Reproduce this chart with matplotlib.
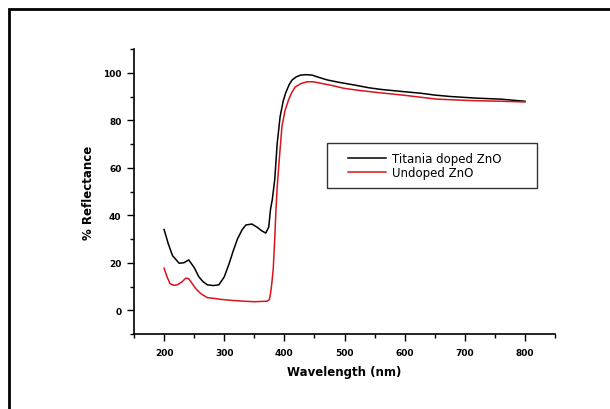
import matplotlib
matplotlib.use("Agg")
import matplotlib.pyplot as plt
from matplotlib.patches import Rectangle
from matplotlib.ticker import MultipleLocator
from matplotlib.legend_handler import HandlerLine2D

wl_doped = [200, 207, 214, 225, 233, 241, 250, 258, 265, 272, 282, 291, 300, 308, 315,
            322, 330, 336, 346, 355, 362, 369, 374, 377, 380, 384, 388, 393, 398, 402,
            408, 413, 420, 427, 436, 446, 458, 471, 490, 515, 540, 560, 600, 626, 650,
            676, 720, 759, 800]
refl_doped = [34, 28, 23, 19.8, 20, 21.2, 18, 14, 12, 10.7, 10.4, 10.7, 14, 19.5, 25,
              30, 34, 35.9, 36.3, 34.9, 33.5, 32.5, 35, 42.5, 46.7, 55, 70, 81.6, 88, 91.4,
              95, 97, 98.3, 99, 99.2, 99, 98, 97, 96, 94.9, 93.7, 93, 92, 91.4, 90.6,
              90, 89.3, 88.9, 88]

wl_undoped = [200, 205, 210, 216, 222, 230, 236, 241, 246, 253, 261, 272, 283, 294, 310,
              333, 350, 371, 375, 377, 379, 381.5, 384, 386, 388, 392, 396, 401, 407, 412,
              418, 428, 438, 448, 460, 480, 498, 520, 554, 600, 653, 709, 760, 800]
refl_undoped = [17.7, 14, 11.2, 10.5, 10.7, 12, 13.5, 13.3, 11.5, 9, 7, 5.3, 5, 4.6, 4.2,
                3.8, 3.6, 3.8, 4.5, 7, 11, 17.4, 30, 42, 51.6, 65, 77.4, 84, 88.6, 91.5,
                94, 95.5, 96.2, 96.2, 95.6, 94.6, 93.5, 92.7, 91.7, 90.5, 88.9, 88.3, 88, 87.7]

labels = ["Titania doped ZnO", "Undoped ZnO"]

plt.rcParams['font.family'] = ['DejaVu Sans']

fig = plt.figure(figsize=(6.1, 4.1), dpi=100)
ax = fig.add_axes([134/610, 1-335/410, (555-134)/610, (335-50)/410])

l1, = ax.plot(wl_doped, refl_doped, color='black', lw=1.1, label=labels[0])
l2, = ax.plot(wl_undoped, refl_undoped, color='#d8141c', lw=1.1, label=labels[1])

ax.set_xlim(150, 850)
ax.set_ylim(-10, 110)
ax.xaxis.set_major_locator(MultipleLocator(100))
ax.xaxis.set_minor_locator(MultipleLocator(50))
ax.yaxis.set_major_locator(MultipleLocator(20))
ax.yaxis.set_minor_locator(MultipleLocator(10))
ax.tick_params(which='major', direction='out', length=5, width=1, labelsize=6.5)
ax.tick_params(axis='x', which='major', pad=5)
ax.tick_params(axis='y', which='major', pad=4)
ax.tick_params(which='minor', direction='out', length=3, width=1)
for lab in ax.get_xticklabels() + ax.get_yticklabels():
    lab.set_fontweight('bold')
ax.spines['top'].set_visible(False)
ax.spines['right'].set_visible(False)
ax.spines['left'].set_linewidth(1.2)
ax.spines['bottom'].set_linewidth(1.2)

ax.set_xlabel("Wavelength (nm)", fontsize=8.5, fontweight='bold', labelpad=6)
ax.set_ylabel("% Reflectance", fontsize=8.5, fontweight='bold', labelpad=6)

hmap = {l1: HandlerLine2D(xpad=1.0), l2: HandlerLine2D(xpad=1.0)}
leg = ax.legend(loc='lower left', bbox_to_anchor=(0.458, 0.512, 0.499, 0.155),
                mode='expand', fontsize=8.5, frameon=True, fancybox=False,
                edgecolor='black', handlelength=4.2, handletextpad=0.5,
                borderpad=0.8, labelspacing=0.05, borderaxespad=0, handler_map=hmap)
leg.get_frame().set_linewidth(1.0)
fig.patches.append(Rectangle((9/610, -0.05), 1.1, 1-10/410+0.05, transform=fig.transFigure,
                             fill=False, edgecolor='black', lw=2))

fig.savefig("out.png", dpi=100)
